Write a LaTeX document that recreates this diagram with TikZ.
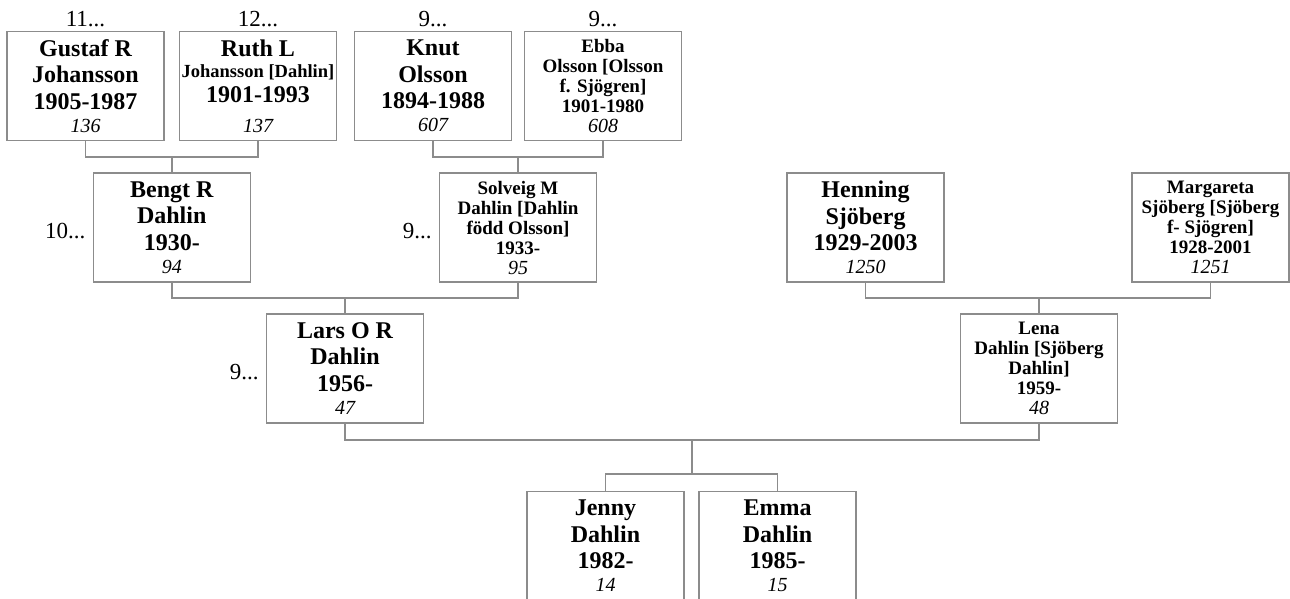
\documentclass[tikz,border=0pt]{standalone}
\usepackage{fontspec}
\setmainfont{Liberation Serif}
\definecolor{boxgray}{HTML}{8C8C8C}
\newcommand{\pnumb}[1]{{\fontsize{20}{20}\selectfont\mdseries\itshape #1}}
\tikzset{
  person/.style={draw=boxgray, line width=1.5pt, minimum width=157pt, minimum height=109pt,
    align=center, inner sep=0pt, fill=white},
  big/.style={person, font=\fontsize{24}{26.5}\selectfont\bfseries},
  small/.style={person, font=\fontsize{19}{20}\selectfont\bfseries},
  conn/.style={draw=boxgray, line width=1.5pt},
  lbl/.style={font=\fontsize{23}{25}\selectfont, inner sep=0pt}
}
\begin{document}
\begin{tikzpicture}[x=1pt, y=-1pt]
\useasboundingbox (0,0) rectangle (1290,598);
% top row
\node[big] (gustaf) at (85.5,86) {Gustaf R\\Johansson\\1905-1987\\[-3.5pt]\pnumb{136}};
\node[big] (ruth) at (258,86) {Ruth L\\[-4.8pt]{\fontsize{18.5}{20}\selectfont Johansson [Dahlin]}\\[-1.5pt]1901-1993\\[2.8pt]\pnumb{137}};
\node[big] (knut) at (433,86) {Knut\\Olsson\\1894-1988\\[-3.5pt]\pnumb{607}};
\node[small] (ebba) at (603,86) {Ebba\\Olsson [Olsson\\f. Sjögren]\\1901-1980\\\pnumb{608}};
% second row
\node[big] (bengt) at (171.75,227.5) {Bengt R\\Dahlin\\1930-\\[-3.5pt]\pnumb{94}};
\node[small] (solveig) at (518,227.5) {Solveig M\\Dahlin [Dahlin\\född Olsson]\\1933-\\\pnumb{95}};
\node[big] (henning) at (865.5,227.5) {Henning\\Sjöberg\\1929-2003\\[-3.5pt]\pnumb{1250}};
\node[small] (margareta) at (1210.5,227.5) {Margareta\\Sjöberg [Sjöberg\\f- Sjögren]\\1928-2001\\\pnumb{1251}};
% third row
\node[big] (lars) at (345,368.5) {Lars O R\\Dahlin\\1956-\\[-3.5pt]\pnumb{47}};
\node[small] (lena) at (1039,368.5) {Lena\\Dahlin [Sjöberg\\Dahlin]\\1959-\\\pnumb{48}};
% children
\node[big] (jenny) at (605.5,546) {Jenny\\Dahlin\\1982-\\[-3.5pt]\pnumb{14}};
\node[big] (emma) at (777.5,546) {Emma\\Dahlin\\1985-\\[-3.5pt]\pnumb{15}};
% labels
\node[lbl, anchor=base] (lg) at ([yshift=4.5pt]gustaf.north) {11...};
\node[lbl, anchor=base] (lr) at ([yshift=4.5pt]ruth.north) {12...};
\node[lbl, anchor=base] (lk) at ([yshift=4.5pt]knut.north) {9...};
\node[lbl, anchor=base] (le) at ([yshift=4.5pt]ebba.north) {9...};
\node[lbl, anchor=base east] (lb) at ([xshift=-7pt,yshift=-11pt]bengt.west) {10...};
\node[lbl, anchor=base east] (ls) at ([xshift=-7pt,yshift=-11pt]solveig.west) {9...};
\node[lbl, anchor=base east] (ll) at ([xshift=-7pt,yshift=-11pt]lars.west) {9...};
% bars
\coordinate (bar1) at (0,157);
\coordinate (bar2) at (0,298);
\coordinate (fam) at (692,440);
\coordinate (sib) at (692,474);
\draw[conn] (gustaf.south) |- (bengt.north |- bar1) -| (ruth.south);
\draw[conn] (bengt.north) -- (bengt.north |- bar1);
\draw[conn] (knut.south) |- (solveig.north |- bar1) -| (ebba.south);
\draw[conn] (solveig.north) -- (solveig.north |- bar1);
\draw[conn] (bengt.south) |- (lars.north |- bar2) -| (solveig.south);
\draw[conn] (lars.north) -- (lars.north |- bar2);
\draw[conn] (henning.south) |- (lena.north |- bar2) -| (margareta.south);
\draw[conn] (lena.north) -- (lena.north |- bar2);
\draw[conn] (lars.south) |- (fam) -| (lena.south);
\draw[conn] (fam) -- (sib);
\draw[conn] (jenny.north) |- (sib) -| (emma.north);
\end{tikzpicture}
\end{document}
